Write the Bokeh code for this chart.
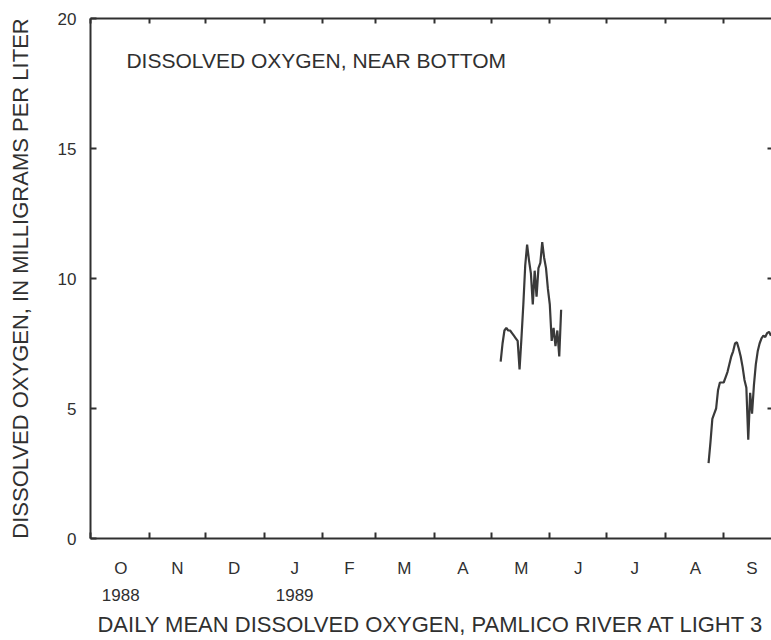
import pandas as pd
from bokeh.plotting import figure
from bokeh.models import (Range1d, FixedTicker, LinearAxis, Label, ColumnDataSource)
from bokeh.embed import file_html
from bokeh.resources import INLINE

# ---- data -----------------------------------------------------------
WATER_YEAR_START = "1988-10-01"

# segment 1: daily mean DO near bottom, starting 1989-05-06
seg1_start = "1989-05-06"
seg1_values = [6.8, 7.5, 8.0, 8.1, 8.0, 8.0, 7.9, 7.8, 7.7, 7.6,
               6.5, 7.7, 9.0, 10.5, 11.3, 10.7, 10.2, 9.0, 10.3, 9.3,
               10.4, 10.6, 11.4, 10.8, 10.4, 9.6, 9.0, 7.6, 8.1, 7.4,
               8.0, 7.0, 8.8]

# segment 2: daily mean DO near bottom, starting 1989-08-24
seg2_start = "1989-08-24"
seg2_values = [2.9, 3.7, 4.6, 4.8, 5.0, 5.7, 6.0, 6.0, 6.0, 6.2,
               6.4, 6.7, 7.0, 7.2, 7.5, 7.55, 7.3, 7.0, 6.6, 6.1,
               5.8, 3.8, 5.6, 4.8, 5.9, 6.7, 7.2, 7.5, 7.7, 7.8,
               7.75, 7.9, 7.95, 7.8]

month_labels = ["O", "N", "D", "J", "F", "M", "A", "M", "J", "J", "A", "S"]
year_labels = {"1988-10": "1988", "1989-01": "1989"}
y_ticks = [0, 5, 10, 15, 20]
right_ticks = [5, 10, 15]

title_text = "DISSOLVED OXYGEN, NEAR BOTTOM"
x_title = "DAILY MEAN DISSOLVED OXYGEN, PAMLICO RIVER AT LIGHT 3"
y_title = "DISSOLVED OXYGEN, IN MILLIGRAMS PER LITER"

# ---- helpers --------------------------------------------------------
origin = pd.Timestamp(WATER_YEAR_START)


def days(ts):
    return (pd.Timestamp(ts) - origin).days


def series(start, values):
    d = pd.date_range(start, periods=len(values), freq="D")
    return ColumnDataSource(dict(x=[(t - origin).days for t in d], y=values))


month_starts = pd.date_range(WATER_YEAR_START, periods=13, freq="MS")
start_days = [(t - origin).days for t in month_starts]
mid_days = [int(round((a + b) / 2)) for a, b in zip(start_days[:-1], start_days[1:])]

FONT = "Liberation Sans"
INK = "#303030"

p = figure(width=771, height=640, output_backend="svg", toolbar_location=None,
           x_range=Range1d(0, 360.3), y_range=Range1d(0, 20),
           min_border_left=90, min_border_right=0, min_border_top=18,
           min_border_bottom=102, x_axis_location=None, y_axis_location=None)
p.outline_line_color = None
p.xgrid.visible = False
p.ygrid.visible = False
p.background_fill_color = "white"
p.border_fill_color = "white"

for src_start, vals in [(seg1_start, seg1_values), (seg2_start, seg2_values)]:
    p.line("x", "y", source=series(src_start, vals), line_color="#3a3a3a",
           line_width=2.2)

# left axis
yl = LinearAxis(ticker=FixedTicker(ticks=y_ticks, minor_ticks=[]))
yl.axis_line_width = 2
yl.axis_line_color = INK
yl.major_tick_in = 6
yl.major_tick_out = 0
yl.major_tick_line_width = 2
yl.major_tick_line_color = INK
yl.major_label_standoff = 14
yl.major_label_text_font = FONT
yl.major_label_text_font_size = "17px"
yl.major_label_text_color = INK
yl.axis_label = y_title
yl.axis_label_text_font = FONT
yl.axis_label_text_font_size = "22px"
yl.axis_label_text_font_style = "normal"
yl.axis_label_text_color = INK
yl.axis_label_standoff = 22
p.add_layout(yl, "left")

# right axis (ticks only, drawn as minor ticks so no labels)
yr = LinearAxis(ticker=FixedTicker(ticks=[], minor_ticks=right_ticks))
yr.axis_line_color = None
yr.major_tick_line_color = None
yr.minor_tick_in = 4
yr.minor_tick_out = 0
yr.minor_tick_line_width = 2
yr.minor_tick_line_color = INK
yr.major_label_standoff = 0
p.add_layout(yr, "right")

# top axis (ticks only)
xt = LinearAxis(ticker=FixedTicker(ticks=[], minor_ticks=start_days))
xt.axis_line_width = 2
xt.axis_line_color = INK
xt.major_tick_line_color = None
xt.minor_tick_in = 5
xt.minor_tick_out = 0
xt.minor_tick_line_width = 2
xt.minor_tick_line_color = INK
xt.major_label_standoff = 0
p.add_layout(xt, "above")

# bottom axis: month letters
xb = LinearAxis(ticker=FixedTicker(ticks=mid_days, minor_ticks=start_days))
xb.axis_line_width = 2
xb.axis_line_color = INK
xb.major_tick_line_color = None
xb.minor_tick_in = 6
xb.minor_tick_out = 0
xb.minor_tick_line_width = 2
xb.minor_tick_line_color = INK
xb.major_label_overrides = {d: lab for d, lab in zip(mid_days, month_labels)}
xb.major_label_standoff = 14
xb.major_label_text_font = FONT
xb.major_label_text_font_size = "17px"
xb.major_label_text_color = INK
p.add_layout(xb, "below")

# second bottom axis: years + title
yr_ticks = [mid_days[i] for i, t in enumerate(month_starts[:-1])
            if t.strftime("%Y-%m") in year_labels]
yr_text = [year_labels[t.strftime("%Y-%m")] for t in month_starts[:-1]
           if t.strftime("%Y-%m") in year_labels]
xy = LinearAxis(ticker=FixedTicker(ticks=yr_ticks, minor_ticks=[]))
xy.axis_line_color = None
xy.major_tick_line_color = None
xy.minor_tick_line_color = None
xy.major_label_overrides = {d: lab for d, lab in zip(yr_ticks, yr_text)}
xy.major_label_standoff = 2
xy.major_label_text_font = FONT
xy.major_label_text_font_size = "17px"
xy.major_label_text_color = INK
xy.axis_label = x_title
xy.axis_label_text_font = FONT
xy.axis_label_text_font_size = "22px"
xy.axis_label_text_font_style = "normal"
xy.axis_label_text_color = INK
xy.axis_label_standoff = 8
p.add_layout(xy, "below")

p.add_layout(Label(x=days("1988-10-20"), y=18.38, text=title_text,
                   text_font=FONT, text_font_size="21px", text_color=INK,
                   text_baseline="middle", text_align="left"))

open("out.html", "w").write(file_html(p, INLINE))
